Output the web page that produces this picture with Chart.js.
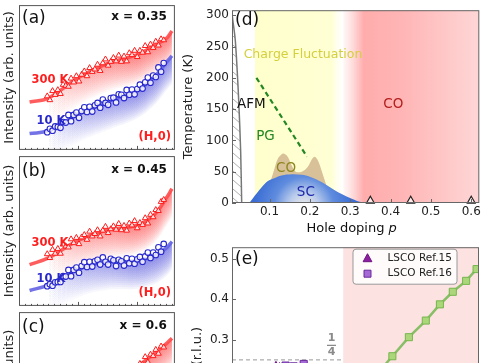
<!DOCTYPE html>
<html>
<head>
<meta charset="utf-8">
<script src="https://cdn.jsdelivr.net/npm/chart.js@4.4.1/dist/chart.umd.min.js"></script>
<style>
  html, body { margin: 0; padding: 0; background: #fff; width: 485px; height: 363px; overflow: hidden; }
  .panel { position: absolute; }
  canvas { display: block; }
</style>
</head>
<body>
<div class="panel" style="left:0;top:0"><canvas id="panelA" width="180" height="155"></canvas></div>
<div class="panel" style="left:0;top:151px"><canvas id="panelB" width="180" height="160"></canvas></div>
<div class="panel" style="left:0;top:307px"><canvas id="panelC" width="180" height="178"></canvas></div>
<div class="panel" style="left:177px;top:0"><canvas id="panelD" width="308" height="240"></canvas></div>
<div class="panel" style="left:186px;top:237px"><canvas id="panelE" width="299" height="240"></canvas></div>
<script>
// ---- (a)-(c): energy-integrated intensity along (H,0) ----
const hScan = [0.048, 0.0525, 0.057, 0.0615, 0.066, 0.0705, 0.075, 0.0795, 0.084, 0.0885, 0.093, 0.0975, 0.102, 0.1065, 0.111,
               0.1155, 0.12, 0.1245, 0.129, 0.1335, 0.138, 0.1425, 0.147, 0.1515, 0.156, 0.1605, 0.165, 0.1695, 0.174, 0.1785,
               0.183, 0.1875, 0.192, 0.1965, 0.201, 0.2055, 0.21, 0.2145, 0.219, 0.2235, 0.228, 0.2325, 0.237, 0.2415, 0.246];
const fitH = [0.018, 0.05, 0.1, 0.15, 0.2, 0.23, 0.25, 0.26];
const hMajor = [0.1, 0.2];

const a300K = [0.56, 0.52, 0.615, 0.575, 0.625, 0.585, 0.68, 0.67, 0.66, 0.745, 0.705, 0.77, 0.715, 0.785, 0.82,
               0.77, 0.855, 0.815, 0.84, 0.89, 0.825, 0.905, 0.945, 0.88, 0.92, 0.96, 0.925, 0.985, 0.92, 0.975,
               0.925, 1.01, 0.99, 1.035, 0.97, 1.035, 1.015, 1.085, 1.02, 1.10, 1.065, 1.13, 1.09, 1.155, 1.145];
const a10K = [0.185, 0.22, 0.20, 0.245, 0.24, 0.23, 0.29, 0.285, 0.365, 0.30, 0.365, 0.39, 0.335, 0.405, 0.445,
              0.395, 0.45, 0.40, 0.465, 0.49, 0.44, 0.525, 0.49, 0.47, 0.54, 0.545, 0.495, 0.58, 0.575, 0.54,
              0.625, 0.575, 0.63, 0.58, 0.635, 0.68, 0.64, 0.705, 0.755, 0.70, 0.775, 0.76, 0.86, 0.815, 0.905];
const a300Fit = [0.50, 0.54, 0.75, 0.90, 0.99, 1.09, 1.16, 1.24];
const a10Fit = [0.17, 0.20, 0.37, 0.50, 0.62, 0.76, 0.91, 0.98];

const b300K = [0.54, 0.50, 0.585, 0.545, 0.595, 0.545, 0.64, 0.62, 0.61, 0.695, 0.655, 0.71, 0.645, 0.715, 0.74,
               0.69, 0.775, 0.725, 0.75, 0.79, 0.725, 0.785, 0.825, 0.76, 0.80, 0.83, 0.795, 0.855, 0.79, 0.835,
               0.785, 0.86, 0.84, 0.885, 0.81, 0.865, 0.845, 0.915, 0.86, 0.95, 0.925, 1.00, 0.99, 1.085, 1.105];
const b10K = [0.205, 0.225, 0.21, 0.245, 0.25, 0.25, 0.31, 0.305, 0.375, 0.31, 0.375, 0.40, 0.345, 0.415, 0.455,
              0.405, 0.46, 0.41, 0.465, 0.48, 0.43, 0.505, 0.46, 0.43, 0.49, 0.475, 0.415, 0.48, 0.465, 0.42,
              0.495, 0.445, 0.49, 0.44, 0.485, 0.51, 0.46, 0.515, 0.555, 0.50, 0.555, 0.53, 0.61, 0.565, 0.645];
const b300Fit = [0.43, 0.50, 0.68, 0.79, 0.84, 0.95, 1.12, 1.22];
const b10Fit = [0.16, 0.22, 0.38, 0.46, 0.47, 0.52, 0.60, 0.67];

const c300K = [0.37, 0.34, 0.40, 0.37, 0.40, 0.37, 0.43, 0.42, 0.41, 0.47, 0.44, 0.48, 0.45, 0.50, 0.53,
               0.50, 0.56, 0.54, 0.56, 0.60, 0.56, 0.62, 0.65, 0.62, 0.66, 0.71, 0.70, 0.76, 0.74, 0.80,
               0.80, 0.89, 0.90, 0.97, 0.94, 1.025, 1.015, 1.095, 1.04, 1.12, 1.105, 1.17, 1.13, 1.205, 1.195];
const c10K = [0.01, 0.05, 0.03, 0.09, 0.07, 0.06, 0.10, 0.09, 0.14, 0.10, 0.15, 0.17, 0.14, 0.19, 0.22,
              0.19, 0.23, 0.21, 0.25, 0.27, 0.24, 0.30, 0.28, 0.27, 0.32, 0.32, 0.30, 0.35, 0.35, 0.33,
              0.38, 0.36, 0.40, 0.38, 0.42, 0.45, 0.43, 0.47, 0.51, 0.48, 0.53, 0.54, 0.58, 0.57, 0.63];
const c300Fit = [0.30, 0.33, 0.45, 0.62, 0.98, 1.13, 1.23, 1.29];
const c10Fit = [-0.02, 0.02, 0.12, 0.22, 0.34, 0.45, 0.58, 0.66];

// ---- (d): phase diagram ----
const pTicks = [0.1, 0.2, 0.3, 0.4, 0.5, 0.6];
const tTicks = [0, 50, 100, 150, 200, 250, 300];
const fluctRange = [0.064, 0.254];
const coRange = [0.283, 0.62];
const afmP = [0.0075, 0.009, 0.015, 0.020, 0.024, 0.0285, 0.031];
const afmT = [300, 292, 261, 210, 158, 82, 0];
const pgP = [0.0675, 0.193];
const pgT = [200, 74];
const coDomeP = [0.1, 0.11, 0.12, 0.13, 0.135, 0.145, 0.155, 0.165, 0.18, 0.195, 0.205, 0.212, 0.22, 0.23, 0.24];
const coDomeT = [30, 50, 70, 78, 79, 74, 60, 50, 50, 58, 70, 74, 68, 50, 30];
const scP = [0.05, 0.068, 0.092, 0.11, 0.13, 0.155, 0.18, 0.2, 0.23, 0.27, 0.31, 0.332];
const scT = [0, 15, 33, 39, 44, 46, 45, 42, 33, 17, 5, 0];
const sampleP = [0.35, 0.45, 0.6];
const sampleT = [3.5, 3.5, 3.5];

// ---- (e): ordering wave vector ----
const qTicks = [0.1, 0.2, 0.3, 0.4, 0.5];
const quarterQ = 0.25;
const stripeP = [0.33, 0.365, 0.405, 0.446, 0.488, 0.523, 0.555, 0.588, 0.614];
const stripeQ = [0.17, 0.213, 0.259, 0.306, 0.347, 0.387, 0.418, 0.445, 0.474];
const ref15P = [0.116, 0.125];
const ref15Q = [0.234, 0.231];
const ref16P = [0.12, 0.14, 0.16, 0.185];
const ref16Q = [0.231, 0.236, 0.234, 0.240];
const bandP = [0.088, 0.18];
const bandQ = [0.241, 0.243];

Chart.defaults.font.family = "'DejaVu Sans', sans-serif";
Chart.defaults.color = '#222';
Chart.defaults.animation = false;
Chart.defaults.events = [];
Chart.defaults.plugins.legend.display = false;
Chart.defaults.plugins.tooltip.enabled = false;

const pts = (xs, ys) => xs.map((x, i) => ({ x, y: ys[i] }));
const FONT = "'DejaVu Sans', sans-serif";

// trace a dataset's drawn line (with its bezier control points), shifted down by dy
function tracePath(ctx, p, dy, cont) {
  p.forEach((pt, j) => {
    if (j === 0) { cont ? ctx.lineTo(pt.x, pt.y + dy) : ctx.moveTo(pt.x, pt.y + dy); return; }
    const q = p[j - 1];
    if (q.cp2x !== undefined && pt.cp1x !== undefined) {
      ctx.bezierCurveTo(q.cp2x, q.cp2y + dy, pt.cp1x, pt.cp1y + dy, pt.x, pt.y + dy);
    } else {
      ctx.lineTo(pt.x, pt.y + dy);
    }
  });
}

// soft gradient shading below the fitted curves
const shadePlugin = {
  id: 'shade',
  beforeDatasetsDraw(chart) {
    const { ctx, chartArea: a } = chart;
    chart.data.datasets.forEach((ds, i) => {
      if (!ds.shade) return;
      const meta = chart.getDatasetMeta(i);
      meta.dataset.updateControlPoints(a, meta.indexAxis);
      const p = meta.data;
      const first = p[0], last = p[p.length - 1];
      const [r, g, b] = ds.shade;
      ctx.save();
      ctx.beginPath(); ctx.rect(a.left, a.top, a.width, a.height); ctx.clip();
      ctx.beginPath();
      tracePath(ctx, p, 0, false);
      ctx.lineTo(last.x, a.bottom); ctx.lineTo(first.x, a.bottom); ctx.closePath();
      ctx.clip();
      const grad = ctx.createLinearGradient(first.x, 0, last.x, 0);
      grad.addColorStop(0.12, `rgba(${r},${g},${b},0)`);
      grad.addColorStop(0.4, `rgba(${r},${g},${b},0.6)`);
      grad.addColorStop(0.75, `rgba(${r},${g},${b},1)`);
      grad.addColorStop(1, `rgba(${r},${g},${b},1)`);
      ctx.fillStyle = grad;
      ctx.globalAlpha = 0.06;
      for (let k = 1; k <= 14; k++) {
        ctx.beginPath();
        ctx.moveTo(first.x, a.top);
        tracePath(ctx, p, k * 2, true);
        ctx.lineTo(last.x, a.top); ctx.closePath();
        ctx.fill();
      }
      ctx.restore();
    });
  }
};

// box frame with inward ticks
function frame(o) {
  return {
    id: 'frame',
    afterDatasetsDraw(chart) {
      const { ctx, chartArea: a, scales } = chart;
      ctx.save();
      ctx.strokeStyle = o.color || '#666';
      ctx.lineWidth = 1;
      ctx.strokeRect(a.left + 0.5, a.top + 0.5, a.width - 1, a.height - 1);
      const seg = (x1, y1, x2, y2) => { ctx.beginPath(); ctx.moveTo(x1, y1); ctx.lineTo(x2, y2); ctx.stroke(); };
      (o.xMajor || []).forEach(v => { const x = Math.round(scales.x.getPixelForValue(v)) + 0.5; seg(x, a.bottom, x, a.bottom - 4); });
      (o.xMinor || []).forEach(v => { const x = Math.round(scales.x.getPixelForValue(v)) + 0.5; seg(x, a.bottom, x, a.bottom - 2); });
      (o.yMajor || []).forEach(v => { const y = Math.round(scales.y.getPixelForValue(v)) + 0.5; seg(a.left, y, a.left + 4, y); });
      ctx.restore();
    }
  };
}

// text annotations, placed relative to the plot box or at data coordinates
function notes(items) {
  return {
    id: 'notes',
    afterDatasetsDraw(chart) {
      const { ctx, chartArea: a, scales } = chart;
      ctx.save();
      items.forEach(n => {
        let x, y;
        if (n.at) { x = scales.x.getPixelForValue(n.at[0]); y = scales.y.getPixelForValue(n.at[1]); }
        else {
          x = n.right !== undefined ? a.right - n.right : a.left + n.left;
          y = n.bottom !== undefined ? a.bottom - n.bottom : a.top + n.top;
        }
        ctx.font = n.font;
        ctx.fillStyle = n.color || '#111';
        ctx.textAlign = n.align || 'center';
        ctx.textBaseline = 'middle';
        ctx.fillText(n.text, x, y);
      });
      ctx.restore();
    }
  };
}

function intensityPanel(id, d) {
  const minor = [];
  for (let k = 1; k <= 26; k++) if (k % 10) minor.push(k / 100);
  return new Chart(document.getElementById(id), {
    type: 'line',
    data: {
      datasets: [
        { data: pts(fitH, d.hotFit), borderColor: 'rgba(255,75,75,0.9)', borderWidth: 3.5, pointRadius: 0, tension: 0.4, shade: [255, 50, 50], order: 1 },
        { data: pts(fitH, d.coldFit), borderColor: 'rgba(100,100,228,0.9)', borderWidth: 3.5, pointRadius: 0, tension: 0.4, shade: [60, 60, 215], order: 1 },
        { data: pts(hScan, d.hot), showLine: false, pointStyle: 'triangle', pointRadius: 3.3, pointBorderWidth: 1,
          pointBorderColor: 'rgb(255,25,25)', pointBackgroundColor: 'rgba(255,255,255,0.8)', order: 0 },
        { data: pts(hScan, d.cold), showLine: false, pointStyle: 'circle', pointRadius: 2.8, pointBorderWidth: 1.1,
          pointBorderColor: 'rgb(40,40,205)', pointBackgroundColor: 'rgba(255,255,255,0.8)', order: 0 }
      ]
    },
    options: {
      responsive: false,
      layout: { padding: { top: 2, right: 2, left: 0, bottom: 0 } },
      scales: {
        x: { type: 'linear', min: 0, max: 0.265, grid: { display: false, drawTicks: false }, border: { display: false },
             ticks: { display: false }, afterFit: s => { s.height = 2; } },
        y: { type: 'linear', min: d.yMin, max: d.yMax, grid: { display: false, drawTicks: false }, border: { display: false },
             ticks: { display: false },
             title: { display: true, text: 'Intensity (arb. units)', font: { size: 13 }, color: '#222', padding: { top: 2, bottom: 0 } },
             afterFit: s => { s.width = 19; } }
      }
    },
    plugins: [shadePlugin, frame({ xMajor: hMajor, xMinor: minor, color: '#555' }), notes([
      { text: d.tag, left: 3, top: d.tagTop, align: 'left', font: `17px ${FONT}`, color: '#111' },
      { text: d.conc, right: 8, top: d.tagTop - 1, align: 'right', font: `bold 12px ${FONT}`, color: '#111' },
      { text: '300 K', left: 31, top: d.hotTop, font: `bold 11.5px ${FONT}`, color: 'rgb(255,30,30)' },
      { text: '10 K', left: 32, top: d.coldTop, font: `bold 11.5px ${FONT}`, color: 'rgb(40,40,200)' },
      { text: '(H,0)', right: 4, bottom: 13, align: 'right', font: `bold 11.5px ${FONT}`, color: 'rgb(255,30,30)' }
    ])]
  });
}

intensityPanel('panelA', { hot: a300K, cold: a10K, hotFit: a300Fit, coldFit: a10Fit, yMin: 0, yMax: 1.51,
  tag: '(a)', conc: 'x = 0.35', tagTop: 13, hotTop: 75, coldTop: 116 });
intensityPanel('panelB', { hot: b300K, cold: b10K, hotFit: b300Fit, coldFit: b10Fit, yMin: 0, yMax: 1.56,
  tag: '(b)', conc: 'x = 0.45', tagTop: 15, hotTop: 87, coldTop: 123 });
intensityPanel('panelC', { hot: c300K, cold: c10K, hotFit: c300Fit, coldFit: c10Fit, yMin: -0.18, yMax: 1.56,
  tag: '(c)', conc: 'x = 0.6', tagTop: 15, hotTop: 87, coldTop: 124 });

// ---- (d) ----
const AFM_INDEX = 2;
const phaseBackdrop = {
  id: 'phaseBackdrop',
  beforeDatasetsDraw(chart) {
    const { ctx, chartArea: a, scales: { x } } = chart;
    const f0 = x.getPixelForValue(fluctRange[0]), f1 = x.getPixelForValue(fluctRange[1]);
    const c0 = x.getPixelForValue(coRange[0]);
    ctx.save();
    ctx.beginPath(); ctx.rect(a.left, a.top, a.width, a.height); ctx.clip();
    let g = ctx.createLinearGradient(f0, 0, c0, 0);
    g.addColorStop(0, 'rgb(255,255,205)');
    g.addColorStop((f1 - f0) / (c0 - f0), 'rgb(255,255,212)');
    g.addColorStop(1, 'rgba(255,255,235,0)');
    ctx.fillStyle = g;
    ctx.fillRect(f0, a.top, c0 - f0, a.height);
    g = ctx.createLinearGradient(c0, 0, a.right, 0);
    g.addColorStop(0, 'rgba(255,200,200,0.15)');
    g.addColorStop(0.15, 'rgb(255,172,172)');
    g.addColorStop(0.45, 'rgb(255,182,182)');
    g.addColorStop(1, 'rgb(254,214,214)');
    ctx.fillStyle = g;
    ctx.fillRect(c0, a.top, a.right - c0, a.height);
    // hatched antiferromagnetic corner
    const afm = chart.getDatasetMeta(AFM_INDEX).data;
    ctx.beginPath();
    ctx.moveTo(a.left, a.top);
    afm.forEach(p => ctx.lineTo(p.x, p.y));
    ctx.lineTo(a.left, a.bottom);
    ctx.closePath();
    ctx.clip();
    ctx.strokeStyle = '#9a9a9a';
    ctx.lineWidth = 0.8;
    for (let y = a.top - 20; y < a.bottom; y += 9) {
      ctx.beginPath(); ctx.moveTo(a.left, y); ctx.lineTo(a.left + 14, y + 12); ctx.stroke();
    }
    ctx.restore();
  }
};

const holeTitle = {
  id: 'holeTitle',
  afterDraw(chart) {
    const { ctx, chartArea: a } = chart;
    ctx.save();
    ctx.textBaseline = 'middle';
    ctx.fillStyle = '#111';
    const main = 'Hole doping ';
    ctx.font = `13px ${FONT}`;
    const w1 = ctx.measureText(main).width;
    ctx.font = `italic 13px ${FONT}`;
    const w2 = ctx.measureText('p').width;
    const x0 = a.left + a.width / 2 - 4 - (w1 + w2) / 2;
    const y = a.bottom + 25.5;
    ctx.font = `13px ${FONT}`;
    ctx.textAlign = 'left';
    ctx.fillText(main, x0, y);
    ctx.font = `italic 13px ${FONT}`;
    ctx.fillText('p', x0 + w1, y);
    ctx.restore();
  }
};

function scFill(c) {
  const chart = c.chart;
  if (!chart.chartArea) return 'rgb(70,120,215)';
  const x = chart.scales.x.getPixelForValue(0.185), y = chart.scales.y.getPixelForValue(0);
  const g = chart.ctx.createRadialGradient(x, y + 4, 0, x, y + 4, 50);
  g.addColorStop(0, 'rgb(242,238,230)');
  g.addColorStop(0.3, 'rgb(185,203,236)');
  g.addColorStop(0.6, 'rgb(95,140,222)');
  g.addColorStop(1, 'rgb(58,108,212)');
  return g;
}

new Chart(document.getElementById('panelD'), {
  type: 'line',
  data: {
    datasets: [
      { label: 'CO', data: pts(coDomeP, coDomeT), fill: 'origin', backgroundColor: 'rgb(216,192,152)', borderWidth: 0, pointRadius: 0, tension: 0.35, order: 5 },
      { label: 'SC', data: pts(scP, scT), fill: 'origin', backgroundColor: scFill, borderWidth: 0, pointRadius: 0, tension: 0.35, order: 4 },
      { label: 'AFM', data: pts(afmP, afmT), borderColor: '#777', borderWidth: 1.5, pointRadius: 0, tension: 0.3, fill: false, order: 3 },
      { label: 'PG', data: pts(pgP, pgT), borderColor: 'rgb(35,135,35)', borderDash: [5, 3.5], borderWidth: 2.2, pointRadius: 0, fill: false, order: 2 },
      { label: 'samples', data: pts(sampleP, sampleT), showLine: false, pointStyle: 'triangle', pointRadius: 4.5, pointBorderWidth: 1.2,
        pointBorderColor: '#222', pointBackgroundColor: 'rgba(255,255,255,0.7)', order: 1, clip: false }
    ]
  },
  options: {
    responsive: false,
    layout: { padding: { top: 3, right: 2, left: 0, bottom: 0 } },
    scales: {
      x: { type: 'linear', min: 0.007, max: 0.62, grid: { display: false, drawTicks: false }, border: { display: false },
           afterBuildTicks: s => { s.ticks = pTicks.map(v => ({ value: v })); },
           ticks: { font: { size: 12 }, color: '#222', padding: 2, maxRotation: 0, autoSkip: false, callback: v => v.toFixed(1) },
           afterFit: s => { s.height = 37; } },
      y: { type: 'linear', min: 0, max: 308, grid: { display: false, drawTicks: false }, border: { display: false },
           afterBuildTicks: s => { s.ticks = tTicks.map(v => ({ value: v })); },
           ticks: { font: { size: 12 }, color: '#222', padding: 3 },
           title: { display: true, text: 'Temperature (K)', font: { size: 13 }, color: '#222', padding: { top: 4, bottom: 0 } },
           afterFit: s => { s.width = 55; } }
    }
  },
  plugins: [phaseBackdrop, holeTitle, frame({ xMajor: pTicks, yMajor: tTicks, color: '#666' }), notes([
    { text: '(d)', left: 3, top: 10, align: 'left', font: `17px ${FONT}`, color: '#111' },
    { text: 'Charge Fluctuation', at: [0.183, 237], font: `12.5px ${FONT}`, color: 'rgb(212,208,60)' },
    { text: 'AFM', at: [0.055, 158], font: `13.5px ${FONT}`, color: '#111' },
    { text: 'PG', at: [0.09, 106], font: `13.5px ${FONT}`, color: 'rgb(35,135,35)' },
    { text: 'CO', at: [0.407, 158], font: `13.5px ${FONT}`, color: 'rgb(180,30,30)' },
    { text: 'CO', at: [0.141, 55], font: `13.5px ${FONT}`, color: 'rgb(140,135,30)' },
    { text: 'SC', at: [0.19, 17], font: `13.5px ${FONT}`, color: 'rgb(30,40,170)' }
  ])]
});

// ---- (e) ----
const pinkBackdrop = {
  id: 'pinkBackdrop',
  beforeDatasetsDraw(chart) {
    const { ctx, chartArea: a, scales: { x } } = chart;
    const c0 = x.getPixelForValue(coRange[0]);
    ctx.save();
    ctx.fillStyle = 'rgb(253,226,226)';
    ctx.fillRect(c0, a.top, a.right - c0, a.height);
    ctx.restore();
  }
};

const quarterLabel = {
  id: 'quarterLabel',
  afterDatasetsDraw(chart) {
    const { ctx, scales } = chart;
    const x = scales.x.getPixelForValue(0.254), y = scales.y.getPixelForValue(quarterQ);
    ctx.save();
    ctx.fillStyle = '#8a8a8a';
    ctx.strokeStyle = '#8a8a8a';
    ctx.font = `bold 11px ${FONT}`;
    ctx.textAlign = 'center';
    ctx.textBaseline = 'middle';
    ctx.fillText('1', x, y - 22);
    ctx.fillText('4', x, y - 8);
    ctx.lineWidth = 1.3;
    ctx.beginPath(); ctx.moveTo(x - 4.5, y - 14.5); ctx.lineTo(x + 4.5, y - 14.5); ctx.stroke();
    ctx.restore();
  }
};

const legendBox = {
  id: 'legendBox',
  afterDatasetsDraw(chart) {
    const { ctx, chartArea: a } = chart;
    const items = chart.data.datasets.filter(d => d.inLegend);
    const w = 104, h = 35, x0 = a.right - 22.5 - w, y0 = a.top + 1.5;
    ctx.save();
    ctx.beginPath();
    ctx.roundRect(x0 + 0.5, y0 + 0.5, w, h, 3);
    ctx.fillStyle = 'rgba(255,255,255,0.85)';
    ctx.fill();
    ctx.strokeStyle = '#999';
    ctx.lineWidth = 1;
    ctx.stroke();
    items.forEach((d, i) => {
      const cx = x0 + 15, cy = y0 + 10 + i * 15;
      ctx.fillStyle = d.pointBackgroundColor;
      ctx.strokeStyle = d.pointBorderColor;
      ctx.lineWidth = 1;
      ctx.beginPath();
      if (d.pointStyle === 'triangle') {
        ctx.moveTo(cx, cy - 5); ctx.lineTo(cx + 4.4, cy + 3); ctx.lineTo(cx - 4.4, cy + 3); ctx.closePath();
      } else {
        ctx.rect(cx - 3.5, cy - 3.5, 7, 7);
      }
      ctx.fill(); ctx.stroke();
      ctx.fillStyle = '#222';
      ctx.font = `10.5px ${FONT}`;
      ctx.textAlign = 'left';
      ctx.textBaseline = 'middle';
      ctx.fillText(d.label, x0 + 35, cy);
    });
    ctx.restore();
  }
};

new Chart(document.getElementById('panelE'), {
  type: 'line',
  data: {
    datasets: [
      { label: 'quarter', data: pts([0.007, coRange[0]], [quarterQ, quarterQ]), borderColor: '#999', borderDash: [4, 3], borderWidth: 1, pointRadius: 0, order: 4 },
      { label: 'band', data: pts(bandP, bandQ), fill: 'origin', backgroundColor: 'rgba(195,165,232,0.7)', borderWidth: 0, pointRadius: 0, order: 3 },
      { label: 'LSCO Ref.15', inLegend: true, data: pts(ref15P, ref15Q), showLine: false, pointStyle: 'triangle', pointRadius: 5,
        pointBackgroundColor: 'rgb(140,30,160)', pointBorderColor: 'rgb(110,20,130)', pointBorderWidth: 1, order: 1 },
      { label: 'LSCO Ref.16', inLegend: true, data: pts(ref16P, ref16Q), showLine: false, pointStyle: 'rect', pointRadius: 5,
        pointBackgroundColor: 'rgb(165,105,214)', pointBorderColor: 'rgb(105,40,155)', pointBorderWidth: 1, order: 1 },
      { label: 'stripe', data: pts(stripeP, stripeQ), borderColor: 'rgba(115,185,80,0.85)', borderWidth: 2.5, pointStyle: 'rect', pointRadius: 5,
        pointBackgroundColor: 'rgb(172,214,122)', pointBorderColor: 'rgb(118,182,78)', pointBorderWidth: 1, order: 2 }
    ]
  },
  options: {
    responsive: false,
    layout: { padding: { top: 3, right: 2, left: 0, bottom: 0 } },
    scales: {
      x: { type: 'linear', min: 0.007, max: 0.62, grid: { display: false, drawTicks: false }, border: { display: false },
           ticks: { display: false }, afterFit: s => { s.height = 32; } },
      y: { type: 'linear', min: 0.04, max: 0.528, grid: { display: false, drawTicks: false }, border: { display: false },
           afterBuildTicks: s => { s.ticks = qTicks.map(v => ({ value: v })); },
           ticks: { font: { size: 12 }, color: '#222', padding: 3, callback: v => v.toFixed(1) },
           title: { display: true, text: '(r.l.u.)', font: { size: 13 }, color: '#222', padding: { top: 4, bottom: 0 } },
           afterFit: s => { s.width = 46; } }
    }
  },
  plugins: [pinkBackdrop, quarterLabel, legendBox, frame({ xMajor: pTicks, yMajor: qTicks, color: '#666' }), notes([
    { text: '(e)', left: 3, top: 12, align: 'left', font: `17px ${FONT}`, color: '#111' }
  ])]
});
</script>
</body>
</html>
